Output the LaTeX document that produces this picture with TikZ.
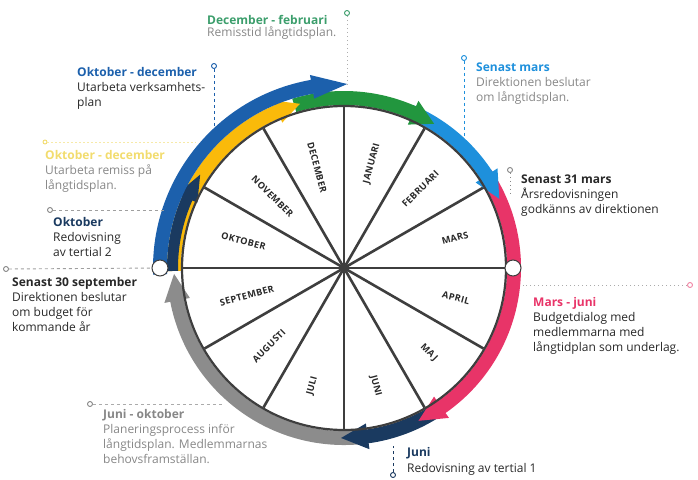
\documentclass[tikz,border=0pt]{standalone}
\usepackage{fontspec}
\setmainfont{Open Sans}
\definecolor{cDblue}{RGB}{28,96,172}
\definecolor{cYel}{RGB}{250,186,10}
\definecolor{cGrn}{RGB}{34,150,62}
\definecolor{cLblue}{RGB}{30,144,220}
\definecolor{cPink}{RGB}{232,52,104}
\definecolor{cNavy}{RGB}{26,58,96}
\definecolor{cGry}{RGB}{140,140,140}
\definecolor{cRim}{RGB}{62,62,62}
\definecolor{cTxt}{RGB}{40,40,40}
\definecolor{cTeal}{RGB}{60,158,108}
\definecolor{cFadeY}{RGB}{242,220,110}
\definecolor{cFade}{RGB}{135,135,135}
\newcommand{\bandarrow}[7]{%
 \fill[#1] (#5:{(#2+#3)*1pt}) arc[start angle=#5, end angle=#6, radius={(#2+#3)*1pt}]
   -- (#6:{(#2+#4)*1pt}) -- (#7:{#2*1pt}) -- (#6:{(#2-#4)*1pt}) -- (#6:{(#2-#3)*1pt})
   arc[start angle=#6, end angle=#5, radius={(#2-#3)*1pt}] -- cycle;}
\begin{document}
\begin{tikzpicture}[x=1pt,y=1pt,
  spoke/.style={line width=2.6pt, draw=cRim},
  month/.style={font=\fontsize{9.2}{9.2}\selectfont\bfseries\addfontfeature{LetterSpace=4}, text=cTxt, inner sep=0},
  block/.style={anchor=north west, inner sep=0, align=left, font=\fontsize{12}{15}\selectfont, text=cTxt},
  lead/.style={dash pattern=on 3pt off 3pt, line width=0.9pt},
  pinhead/.style={circle, draw, line width=0.9pt, fill=white, minimum size=5pt, inner sep=0},
  knob/.style={circle, draw=cRim, line width=1pt, fill=white, minimum size=16pt, inner sep=0}]
\path[use as bounding box] (0,0) rectangle (698,-479);
\coordinate (C) at (344,-268);
\begin{scope}[shift={(C)}]
  \foreach \a in {0,30,...,330} \draw[spoke] (0,0) -- (\a:161);
  \node[month, rotate=-75] (mDec) at (105:104) {DECEMBER};
  \node[month, rotate=75]  (mJan) at (75:108) {JANUARI};
  \node[month, rotate=45]  (mFeb) at (46:110) {FEBRUARI};
  \node[month, rotate=15]  (mMar) at (15:115) {MARS};
  \node[month, rotate=-15] (mApr) at (-15:116) {APRIL};
  \node[month, rotate=-45] (mMaj) at (-45:120) {MAJ};
  \node[month, rotate=-75] (mJun) at (-75:122) {JUNI};
  \node[month, rotate=75]  (mJul) at (-105:122) {JULI};
  \node[month, rotate=45]  (mAug) at (-134:108) {AUGUSTI};
  \node[month, rotate=15]  (mSep) at (-164:101) {SEPTEMBER};
  \node[month, rotate=-15] (mOkt) at (165:104) {OKTOBER};
  \node[month, rotate=-45] (mNov) at (135:101) {NOVEMBER};
  % bands
  \bandarrow{cGry}{170}{7}{13}{-84}{-169}{-178}
  \bandarrow{cNavy}{170}{7}{13}{-56}{-82}{-91}
  \bandarrow{cPink}{170}{7}{13}{34}{-55}{-64}
  \bandarrow{cLblue}{170}{7}{13}{67}{33}{24}
  \bandarrow{cGrn}{170}{7}{13}{107}{66}{58}
  \bandarrow{cYel}{170}{7}{12}{181}{113}{105}
  \bandarrow{cNavy}{171.5}{5.5}{11}{181}{156}{147}
  \bandarrow{cDblue}{184}{7}{12}{182}{100}{89}
  \draw[cRim, line width=2.2pt] (0,0) circle[radius=162pt];
  \node[knob] (kL) at (180:184) {};
  \node[knob] (kR) at (0:169) {};
\end{scope}
% texts
\node[block] (tA) at (207,-15) {\textcolor{cTeal}{\bfseries December - februari}\\[-3pt]\textcolor{cFade}{Remisstid långtidsplan.}};
\node[block] (tB) at (77,-67.5) {\textcolor{cDblue}{\bfseries Oktober - december}\\Utarbeta verksamhets-\\plan};
\node[block] (tC) at (45,-150.5) {\textcolor{cFadeY}{\bfseries Oktober - december}\\\textcolor{cFade}{Utarbeta remiss på}\\\textcolor{cFade}{långtidsplan.}};
\node[block] (tD) at (53,-217.5) {\textcolor{cNavy}{\bfseries Oktober}\\Redovisning\\av tertial 2};
\node[block] (tE) at (12,-277.5) {{\bfseries Senast 30 september}\\Direktionen beslutar\\om budget för\\kommande år};
\node[block] (tF) at (476,-62.5) {\textcolor{cLblue}{\bfseries Senast mars}\\\textcolor{cFade}{Direktionen beslutar}\\\textcolor{cFade}{om långtidsplan.}};
\node[block] (tG) at (521,-174.5) {{\bfseries Senast 31 mars}\\Årsredovisningen\\godkänns av direktionen};
\node[block] (tH) at (533,-297.5) {\textcolor{cPink}{\bfseries Mars - juni}\\Budgetdialog med\\medlemmarna med\\långtidplan som underlag.};
\node[block] (tI) at (103,-409.5) {\textcolor{cFade}{\bfseries Juni - oktober}\\\textcolor{cFade}{Planeringsprocess inför}\\\textcolor{cFade}{långtidsplan. Medlemmarnas}\\\textcolor{cFade}{behovsframställan.}};
\node[block] (tJ) at (407,-447.5) {\textcolor{cNavy}{\bfseries Juni}\\[1pt]Redovisning av tertial 1};
% leader lines with pins
\node[pinhead, draw=cTeal] (pA) at (347,-13) {};
\coordinate (eA) at (347,-84);
\draw[lead, cGry!70, dash pattern=on 1.5pt off 2.5pt] (pA) -- (eA);
\node[pinhead, draw=cDblue] (pB) at (214,-66) {};
\coordinate (eB) at (214,-128);
\draw[lead, cDblue] (pB) -- (eB);
\node[pinhead, draw=cFadeY, minimum size=4pt] (pC) at (45,-142) {};
\coordinate (eC) at (196,-142);
\draw[lead, cFadeY!60, dash pattern=on 1.5pt off 2.5pt] (pC) -- (eC);
\node[pinhead, draw=cFade] (pD) at (50,-210) {};
\coordinate (eD) at (164,-210);
\draw[lead, cFade!80] (pD) -- (eD);
\node[pinhead, draw=cFade] (pE) at (6,-269) {};
\draw[lead, cFade!80] (pE) -- (kL);
\node[pinhead, draw=cLblue] (pF) at (464,-58) {};
\coordinate (eF) at (464,-138);
\draw[lead, cLblue] (pF) -- (eF);
\node[pinhead, draw=cFade] (pG) at (510,-170) {};
\coordinate (eG) at (510,-196);
\draw[lead, cFade, dash pattern=on 1.5pt off 2.5pt] (pG) -- (eG);
\node[pinhead, draw=cPink!60] (pH) at (690,-285) {};
\coordinate (eH) at (523,-285);
\draw[lead, cFade!70, dash pattern=on 1.5pt off 2.5pt] (pH) -- (eH);
\node[pinhead, draw=cFade] (pI) at (90,-404) {};
\coordinate (eI) at (224,-404);
\draw[lead, cFade!70] (pI) -- (eI);
\node[pinhead, draw=cNavy] (pJ) at (393,-475) {};
\coordinate (eJ) at (393,-446);
\draw[lead, cNavy] (pJ) -- (eJ);
\end{tikzpicture}
\end{document}
